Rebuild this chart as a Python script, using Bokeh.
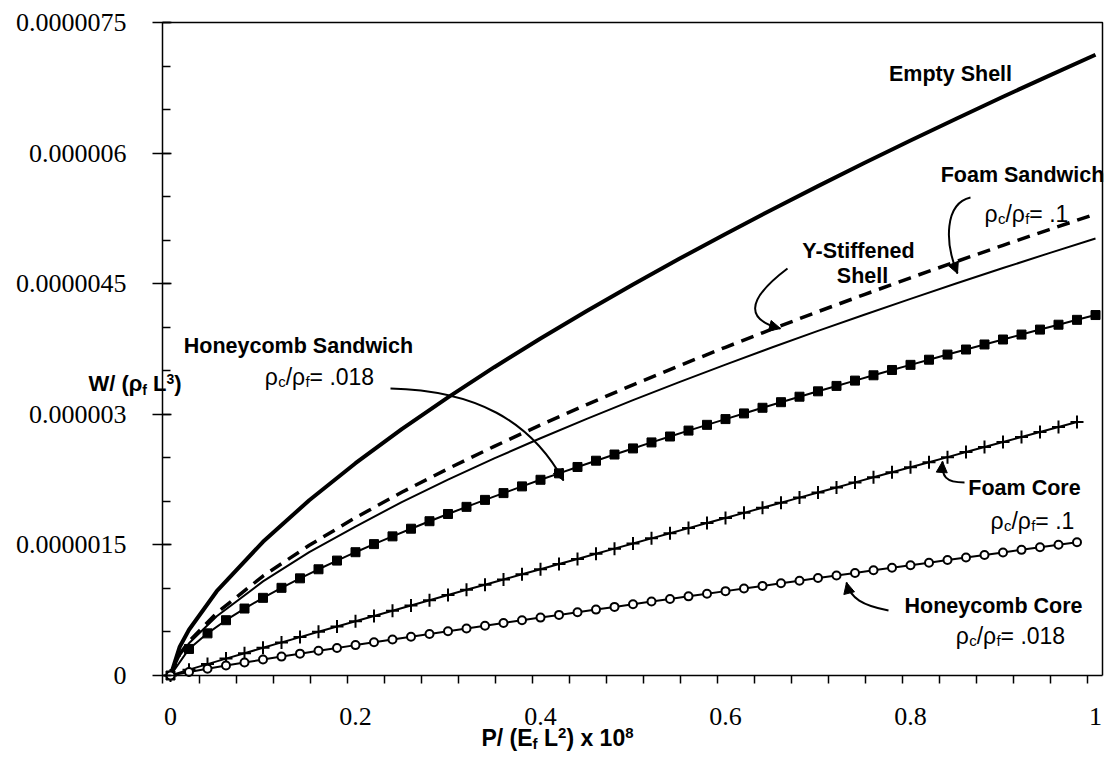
from bokeh.plotting import figure
from bokeh.models import Range1d, FixedTicker, Label, Arrow, NormalHead
from bokeh.embed import file_html
from bokeh.resources import INLINE

# ---------------- data (W/(rho_f L^3) in units of 1e-6) ----------------
x_smooth = [0, 0.01, 0.02, 0.05, 0.10, 0.15, 0.20, 0.25, 0.30, 0.35, 0.40, 0.45,
            0.50, 0.55, 0.60, 0.65, 0.70, 0.75, 0.80, 0.85, 0.90, 0.95, 1.00]
empty_shell = [0, 0.331, 0.525, 0.968, 1.536, 2.013, 2.438, 2.830, 3.195, 3.541, 3.871, 4.187,
               4.492, 4.786, 5.072, 5.350, 5.621, 5.886, 6.145, 6.398, 6.647, 6.890, 7.130]
foam_sandwich = [0, 0.246, 0.391, 0.719, 1.142, 1.496, 1.813, 2.104, 2.375, 2.632, 2.877, 3.112,
                 3.339, 3.558, 3.770, 3.977, 4.179, 4.375, 4.568, 4.756, 4.941, 5.122, 5.300]
y_stiffened = [0, 0.233, 0.370, 0.681, 1.081, 1.417, 1.710, 1.992, 2.250, 2.493, 2.725, 2.948,
               3.163, 3.370, 3.571, 3.767, 3.958, 4.144, 4.326, 4.505, 4.680, 4.851, 5.020]

x_hs = [0, 0.02, 0.04, 0.06, 0.08, 0.10, 0.12, 0.14, 0.16, 0.18, 0.20, 0.22, 0.24, 0.26, 0.28,
        0.30, 0.32, 0.34, 0.36, 0.38, 0.40, 0.42, 0.44, 0.46, 0.48, 0.50, 0.52, 0.54, 0.56, 0.58,
        0.60, 0.62, 0.64, 0.66, 0.68, 0.70, 0.72, 0.74, 0.76, 0.78, 0.80, 0.82, 0.84, 0.86, 0.88,
        0.90, 0.92, 0.94, 0.96, 0.98, 1.00]
honeycomb_sandwich = [0, 0.305, 0.484, 0.635, 0.769, 0.892, 1.007, 1.116, 1.220, 1.320, 1.416,
                      1.509, 1.598, 1.686, 1.772, 1.855, 1.937, 2.017, 2.095, 2.172, 2.248, 2.322,
                      2.395, 2.467, 2.538, 2.608, 2.677, 2.745, 2.813, 2.879, 2.945, 3.010, 3.075,
                      3.139, 3.202, 3.264, 3.326, 3.387, 3.448, 3.509, 3.568, 3.627, 3.686, 3.744,
                      3.802, 3.859, 3.916, 3.973, 4.029, 4.085, 4.140]

x_core = [0, 0.02, 0.04, 0.06, 0.08, 0.10, 0.12, 0.14, 0.16, 0.18, 0.20, 0.22, 0.24, 0.26, 0.28,
          0.30, 0.32, 0.34, 0.36, 0.38, 0.40, 0.42, 0.44, 0.46, 0.48, 0.50, 0.52, 0.54, 0.56, 0.58,
          0.60, 0.62, 0.64, 0.66, 0.68, 0.70, 0.72, 0.74, 0.76, 0.78, 0.80, 0.82, 0.84, 0.86, 0.88,
          0.90, 0.92, 0.94, 0.96, 0.98]
foam_core = [0, 0.067, 0.131, 0.194, 0.256, 0.318, 0.380, 0.441, 0.502, 0.563, 0.623, 0.684,
             0.744, 0.804, 0.864, 0.924, 0.984, 1.043, 1.103, 1.162, 1.221, 1.280, 1.339, 1.399,
             1.457, 1.516, 1.575, 1.634, 1.693, 1.751, 1.809, 1.868, 1.927, 1.985, 2.043, 2.102,
             2.160, 2.218, 2.276, 2.334, 2.392, 2.450, 2.508, 2.566, 2.624, 2.682, 2.739, 2.797,
             2.855, 2.912]
honeycomb_core = [0, 0.041, 0.078, 0.114, 0.149, 0.183, 0.217, 0.251, 0.284, 0.316, 0.349, 0.381,
                  0.413, 0.445, 0.477, 0.509, 0.540, 0.572, 0.603, 0.634, 0.665, 0.696, 0.727,
                  0.757, 0.788, 0.818, 0.849, 0.879, 0.909, 0.939, 0.969, 0.999, 1.029, 1.059,
                  1.089, 1.119, 1.149, 1.178, 1.208, 1.237, 1.267, 1.296, 1.326, 1.355, 1.384,
                  1.413, 1.443, 1.472, 1.501, 1.530]

x_tick_values = [0, 0.2, 0.4, 0.6, 0.8, 1.0]
x_tick_labels = ["0", "0.2", "0.4", "0.6", "0.8", "1"]
y_tick_values = [0, 1.5, 3.0, 4.5, 6.0, 7.5]
y_tick_labels = ["0", "0.0000015", "0.000003", "0.0000045", "0.000006", "0.0000075"]

# ---------------- geometry (canvas pixels) ----------------
WC, HC = 1105, 765
PX0, PXU = 170.0, 925.0          # pixel of x=0, pixels per x unit
PY0, PYU = 675.0, 653.0 / 7.5    # pixel of y=0, pixels per y unit
AX_L, AX_R, AX_T = 162, 1102, 22  # plot box


def X(px):
    return (px - PX0) / PXU


def Y(py):
    return (PY0 - py) / PYU


p = figure(width=WC, height=HC, x_range=Range1d(X(0), X(WC)), y_range=Range1d(Y(HC), Y(0)),
           output_backend="svg", toolbar_location=None, title=None,
           min_border_left=0, min_border_right=0, min_border_top=0, min_border_bottom=0)
p.xgrid.visible = False
p.ygrid.visible = False
p.outline_line_color = None
p.background_fill_color = "white"
p.border_fill_color = "white"

xminor = [X(AX_L) + 0.04 * k for k in range(26)]
p.xaxis.fixed_location = 0
p.xaxis.bounds = (X(AX_L), X(AX_R))
p.xaxis.ticker = FixedTicker(ticks=x_tick_values, minor_ticks=xminor)
p.xaxis.major_label_overrides = dict(zip(x_tick_values, x_tick_labels))
p.xaxis.major_tick_in = 0
p.xaxis.major_tick_out = 0
p.xaxis.minor_tick_in = 0
p.xaxis.minor_tick_out = 8
p.xaxis.major_label_standoff = 24

p.yaxis.fixed_location = X(AX_L)
p.yaxis.bounds = (0, 7.5)
p.yaxis.ticker = FixedTicker(ticks=y_tick_values, minor_ticks=[0.5 * k for k in range(16)])
p.yaxis.major_label_overrides = dict(zip(y_tick_values, y_tick_labels))
p.yaxis.major_tick_in = 9
p.yaxis.major_tick_out = 10
p.yaxis.minor_tick_in = 8
p.yaxis.minor_tick_out = 0
p.yaxis.major_label_standoff = 26

for ax in (p.xaxis, p.yaxis):
    ax.axis_line_color = "black"
    ax.axis_line_width = 1.5
    ax.major_tick_line_color = "black"
    ax.major_tick_line_width = 1.5
    ax.minor_tick_line_color = "black"
    ax.minor_tick_line_width = 1.5
    ax.major_label_text_font = "Liberation Serif"
    ax.major_label_text_font_size = "26px"
    ax.major_label_text_color = "black"

# top and right edges of the plot box
p.line([X(AX_L), X(AX_R), X(AX_R)], [Y(AX_T), Y(AX_T), 0], line_width=1.5, line_color="black")

# ---------------- series ----------------
p.line(x_smooth, empty_shell, line_width=4, line_color="black")
p.line(x_smooth, foam_sandwich, line_width=3.5, line_color="black", line_dash="13 8")
p.line(x_smooth, y_stiffened, line_width=2, line_color="black")

p.line(x_hs, honeycomb_sandwich, line_width=2, line_color="black")
p.scatter(x_hs, honeycomb_sandwich, marker="square", size=9, fill_color="black", line_color="black")

p.line(x_core, foam_core, line_width=2, line_color="black")
p.scatter(x_core, foam_core, marker="cross", size=13, line_width=2, line_color="black")

p.line(x_core, honeycomb_core, line_width=2, line_color="black")
p.scatter(x_core, honeycomb_core, marker="circle", size=8, fill_color="white",
          line_color="black", line_width=2)

# ---------------- annotation helpers ----------------
W_REG = {'ρ': 0.58, 'c': 0.5, '/': 0.278, 'f': 0.278, '=': 0.584, ' ': 0.278, '.': 0.278}
W_BOLD = {'W': 0.944, '/': 0.278, ' ': 0.278, '(': 0.333, ')': 0.333, 'ρ': 0.611, 'L': 0.611,
          'P': 0.667, 'E': 0.667, 'x': 0.556, 'f': 0.333}


def tw(s, size, bold):
    t = W_BOLD if bold else W_REG
    return sum(t.get(ch, 0.556) for ch in s) * size


def rich(x_px, y_mid, runs, align="left"):
    """runs: (text, size, bold, shift_px); shift positive = downward (of the run's middle)."""
    total = sum(tw(t, s, b) for t, s, b, _ in runs)
    x = x_px - (total / 2 if align == "center" else 0)
    for t, s, b, sh in runs:
        core = t.lstrip(" ")
        lead = tw(t[:len(t) - len(core)], s, b)
        core = core.rstrip(" ")
        if core:
            p.add_layout(Label(x=X(x + lead), y=Y(y_mid + sh), text=core, text_align="left",
                               text_baseline="middle", text_font="Liberation Sans",
                               text_font_size=f"{s}px",
                               text_font_style="bold" if b else "normal", text_color="black"))
        x += tw(t, s, b)


def title(cx, cy, text, size=21.5):
    p.add_layout(Label(x=X(cx), y=Y(cy), text=text, text_align="center", text_baseline="middle",
                       text_font="Liberation Sans", text_font_size=f"{size}px",
                       text_font_style="bold", text_color="black"))


def ratio(cx, cy, val, size=23):
    rich(cx, cy, [("ρ", size, False, 0), ("c", 15, False, 5), ("/ρ", size, False, 0),
                  ("f", 15, False, 5), ("= " + val, size, False, 0)], align="center")


def curved_arrow(start, c0, c1, end):
    p.bezier(x0=[X(start[0])], y0=[Y(start[1])], x1=[X(end[0])], y1=[Y(end[1])],
             cx0=[X(c0[0])], cy0=[Y(c0[1])], cx1=[X(c1[0])], cy1=[Y(c1[1])],
             line_width=2, line_color="black")
    dx, dy = end[0] - c1[0], end[1] - c1[1]
    n = (dx * dx + dy * dy) ** 0.5
    sx, sy = end[0] - 6 * dx / n, end[1] - 6 * dy / n
    p.add_layout(Arrow(end=NormalHead(size=11, fill_color="black", line_color="black"),
                       x_start=X(sx), y_start=Y(sy), x_end=X(end[0]), y_end=Y(end[1]),
                       line_width=2, line_color="black"))


# ---------------- annotations ----------------
title(950, 73, "Empty Shell")

title(1022, 174, "Foam Sandwich")
ratio(1026, 213, ".1")
curved_arrow((970, 197), (944, 203), (944, 242), (957, 273))

title(858, 250, "Y-Stiffened")
title(862, 275, "Shell")
curved_arrow((787, 268), (742, 302), (748, 320), (780, 328))

title(298, 345, "Honeycomb Sandwich")
ratio(319, 376, ".018")
curved_arrow((390, 388), (475, 390), (530, 420), (563, 480))

title(1024, 487, "Foam Core")
ratio(1032, 520, ".1")
curved_arrow((964, 482), (945, 482), (941, 476), (942, 461))

title(993, 605, "Honeycomb Core")
ratio(1010, 635, ".018")
curved_arrow((888, 610), (862, 605), (850, 598), (846, 582))

# axis titles
rich(88, 383, [("W/ (ρ", 22, True, 0), ("f", 14, True, 6), (" L", 22, True, 0),
               ("3", 14, True, -5), (")", 22, True, 0)])
rich(557, 737, [("P/ (E", 23, True, 0), ("f", 15, True, 6), (" L", 23, True, 0),
                ("2", 15, True, -5), (") x 10", 23, True, 0), ("8", 15, True, -5)],
     align="center")

open("out.html", "w").write(file_html(p, INLINE))
